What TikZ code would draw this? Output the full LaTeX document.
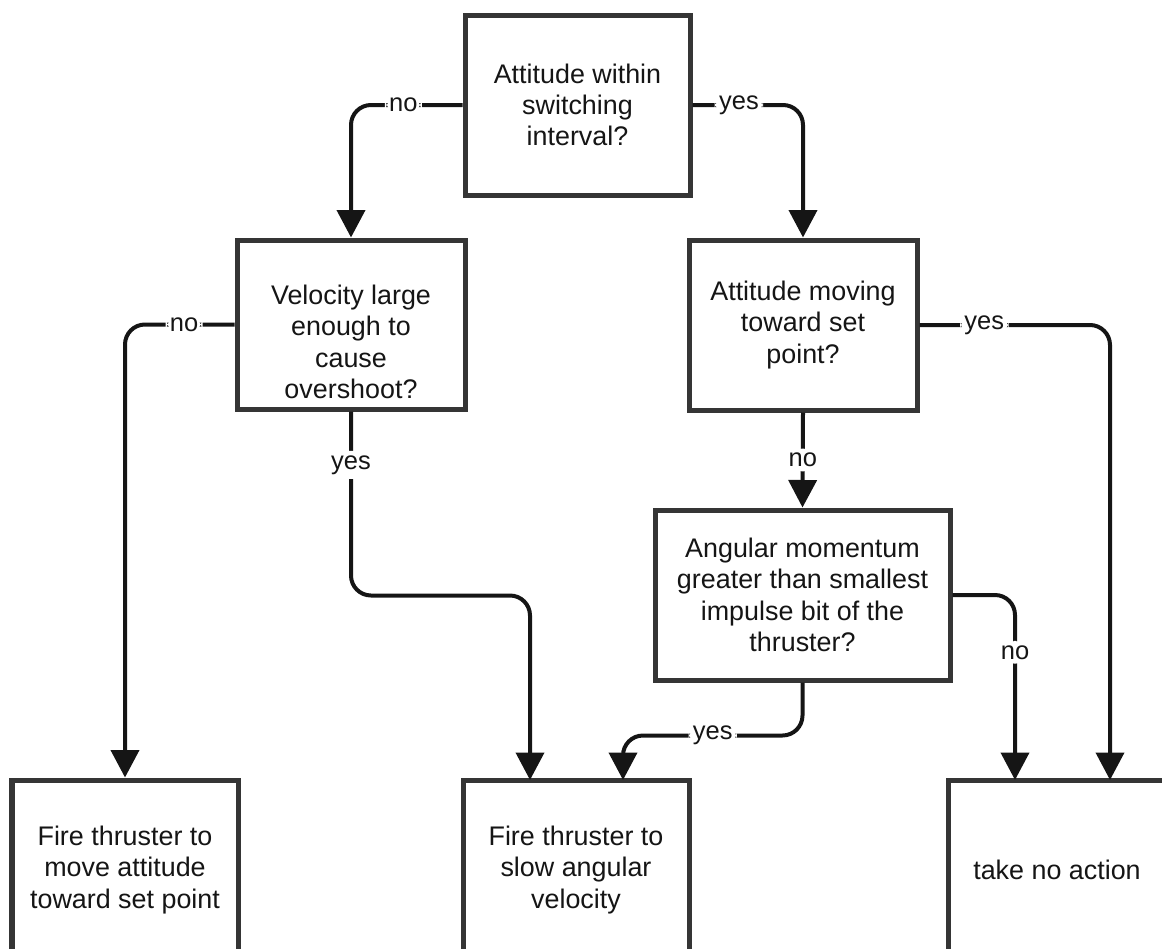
\documentclass[tikz,border=0pt]{standalone}
\usepackage{fontspec}
\setmainfont{Liberation Sans}
\usetikzlibrary{arrows.meta}
\definecolor{boxgray}{HTML}{353535}
\definecolor{inkgray}{HTML}{151515}
\begin{document}
\begin{tikzpicture}[
    box/.style={draw=boxgray, line width=0.1cm, fill=white, align=center, inner sep=0pt, text=inkgray, font=\fontsize{15.3}{17.8}\selectfont},
    conn/.style={draw=inkgray, line width=0.08cm, rounded corners=0.4cm, -{Triangle[length=0.55cm, width=0.56cm]}},
    lbl/.style={fill=white, inner sep=2.5pt, text=inkgray, font=\fontsize{14.5}{17}\selectfont}
]
        \useasboundingbox (0,0) rectangle (23.24,-18.96);
        \clip (0,0) rectangle (23.24,-18.96);

        \node [box, minimum width=4.5cm, minimum height=3.6cm] (qatt) at (11.55,-2.1) {Attitude within\\switching\\interval?};
        % text sits a little low in this box
        \node [box, minimum width=4.56cm, minimum height=3.38cm] (qvel) at (7.02,-6.49) {\rule{0pt}{1.08cm}Velocity large\\enough to\\cause\\overshoot?};
        \node [box, minimum width=4.56cm, minimum height=3.4cm] (qmove) at (16.06,-6.5) {Attitude moving\\toward set\\point?};
        \node [box, minimum width=5.9cm, minimum height=3.4cm] (qmom) at (16.05,-11.9) {Angular momentum\\greater than smallest\\impulse bit of the\\thruster?};

        \node [box, minimum width=4.52cm, minimum height=3.6cm] (fmove) at (2.5,-17.4) {Fire thruster to\\move attitude\\toward set point};
        \node [box, minimum width=4.52cm, minimum height=3.6cm] (fslow) at (11.52,-17.4) {Fire thruster to\\slow angular\\velocity};
        \node [box, minimum width=4.36cm, minimum height=3.6cm] (noact) at (21.14,-17.4) {take no action};

        \coordinate (fslowA) at (10.6,-15.6);
        \coordinate (fslowB) at (12.46,-15.6);
        \coordinate (noactA) at (20.3,-15.6);
        \coordinate (noactB) at (22.2,-15.6);

        \draw [conn] (qatt.west) -| node [lbl, pos=0.265] (lno1) {no} (qvel.north);
        \draw [conn] (qatt.east) -| node [lbl, pos=0.21] (lyes1) {yes} (qmove.north);
        \draw [conn] (qvel.west) -| node [lbl, pos=0.23] (lno2) {no} (fmove.north);
        \draw [conn] (qvel.south) -- node [lbl, pos=0.29] (lyes2) {yes} ++(0,-3.68) -| (fslowA);
        \draw [conn] (qmove.south) -- node [lbl] (lno3) {no} (qmom.north);
        \draw [conn] (qmove.east) -| node [lbl, pos=0.17] (lyes3) {yes} (noactB);
        \draw [conn] (qmom.east) -| node [lbl, pos=0.655] (lno4) {no} (noactA);
        \draw [conn] (qmom.south) -- ++(0,-1.06) -| node [lbl, pos=0.25] (lyes4) {yes} (fslowB);
    \end{tikzpicture}
\end{document}
